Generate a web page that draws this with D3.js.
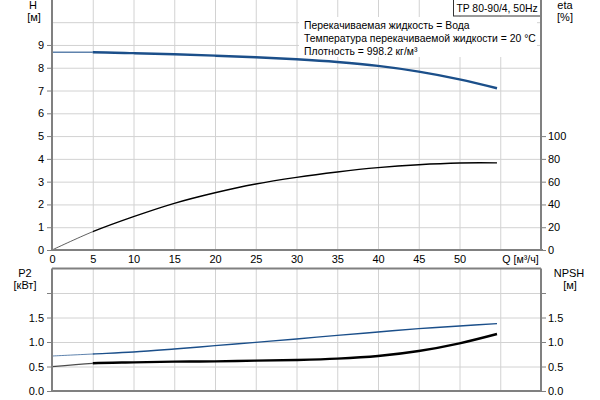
<!DOCTYPE html>
<html><head><meta charset="utf-8">
<script src="https://cdn.jsdelivr.net/npm/d3@7"></script>
<style>
body{margin:0;background:#fff;}
svg{display:block;font-family:"Liberation Sans",Arial,sans-serif;font-size:11px;}
</style></head><body>
<svg id="c" width="600" height="400"></svg>
<script>
// ---- data ----
const flow  = [0, 5, 10, 15, 20, 25, 30, 35, 40, 45, 50, 54.6];
const head  = [8.68, 8.68, 8.64, 8.59, 8.53, 8.46, 8.37, 8.25, 8.08, 7.83, 7.49, 7.10];
const eta   = [0, 16.1, 29.3, 41.0, 50.3, 58.0, 63.8, 68.5, 72.3, 74.9, 76.4, 76.5];
const power = [0.714, 0.755, 0.796, 0.857, 0.925, 0.993, 1.061, 1.136, 1.204, 1.272, 1.327, 1.374];
const npsh  = [0.497, 0.565, 0.585, 0.599, 0.605, 0.619, 0.633, 0.660, 0.714, 0.816, 0.973, 1.163];

const qTicks   = [0, 5, 10, 15, 20, 25, 30, 35, 40, 45, 50];
const qGrid    = [5, 10, 15, 20, 25, 30, 35, 40, 45, 50, 55];
const hTicks   = [0, 1, 2, 3, 4, 5, 6, 7, 8, 9];
const hGrid    = [1, 2, 3, 4, 5, 6, 7, 8, 9, 10];
const etaTicks = [0, 20, 40, 60, 80, 100];
const pTicks   = [0, 0.5, 1.0, 1.5, 2.0];
const pLabels  = ["0.0", "0.5", "1.0", "1.5", ""];

const infoLines = ["Перекачиваемая жидкость = Вода",
                   "Температура перекачиваемой жидкости = 20 °C",
                   "Плотность = 998.2 кг/м³"];
const title = "TP 80-90/4, 50Hz";

// ---- layout ----
const svg = d3.select("#c");
const L = 52, R = 541;
const x = d3.scaleLinear([0, 60], [L, R]);
const yH = d3.scaleLinear([0, 11], [250, -0.6]);
const yEta = d3.scaleLinear([0, 100], [250, 250 - 5 * 22.78]);
const yB = d3.scaleLinear([0, 2.5], [391, 268.5]);
const AX = "#808080", GR = "#d2d2d2";

function grid(g, yScale, y0, y1, hVals) {
  g.append("g").attr("transform", `translate(0,${y0})`)
    .call(d3.axisBottom(x).tickValues(qGrid).tickSize(y1 - y0).tickFormat(""))
    .call(s => { s.select(".domain").remove(); s.selectAll("line").attr("stroke", GR); });
  g.append("g").attr("transform", `translate(${L},0)`)
    .call(d3.axisRight(yScale).tickValues(hVals).tickSize(R - L).tickFormat(""))
    .call(s => { s.select(".domain").remove(); s.selectAll("line").attr("stroke", GR); });
}

grid(svg, yH, 0, 250, hGrid);
grid(svg, yB, 268.5, 391, [0.5, 1.0, 1.5, 2.0]);

// info text with white background
svg.append("rect").attr("x", 299).attr("y", 17).attr("width", 238).attr("height", 40).attr("fill", "#fff");
svg.append("g").selectAll("text").data(infoLines).join("text")
  .attr("x", 304).attr("y", (d, i) => 29 + i * 13).text(d => d).attr("fill", "#000")
  .style("font-size", "10.4px");

// title box
svg.append("rect").attr("x", 453.5).attr("y", -1).attr("width", 87).attr("height", 17)
  .attr("fill", "#fff").attr("stroke", "#333").attr("stroke-width", 1);
svg.append("text").attr("x", 497).attr("y", 11.5).attr("text-anchor", "middle")
  .style("font-size", "10.4px").text(title);

// ---- curves ----
const defs = svg.append("defs");
defs.append("clipPath").attr("id", "clipA").append("rect")
  .attr("x", 0).attr("y", 0).attr("width", x(5)).attr("height", 400);
defs.append("clipPath").attr("id", "clipB").append("rect")
  .attr("x", x(5)).attr("y", 0).attr("width", 600).attr("height", 400);
const curve = d3.curveCatmullRom.alpha(0.5);
function drawCurve(vals, yScale, color, w, wThin) {
  const pts = flow.map((q, i) => [q, vals[i]]);
  const line = d3.line().x(d => x(d[0])).y(d => yScale(d[1])).curve(curve);
  svg.append("path").datum(pts).attr("d", line).attr("fill", "none").attr("clip-path", "url(#clipA)")
    .attr("stroke", color).attr("stroke-width", wThin).attr("stroke-opacity", 0.7);
  svg.append("path").datum(pts).attr("d", line).attr("fill", "none").attr("clip-path", "url(#clipB)")
    .attr("stroke", color).attr("stroke-width", w);
}
drawCurve(head, yH, "#1b4f8a", 2.4, 1.6);
drawCurve(eta, yEta, "#000", 1.4, 0.9);
drawCurve(power, yB, "#1b4f8a", 1.4, 1.0);
drawCurve(npsh, yB, "#000", 2.4, 1.2);

// ---- axes ----
function styleAxis(s) {
  s.select(".domain").remove();
  s.selectAll(".tick line").attr("stroke", AX);
  s.selectAll(".tick text").attr("fill", "#000").style("font-size", "11px")
    .style("font-family", "'Liberation Sans',Arial,sans-serif");
}
svg.append("g").attr("transform", `translate(${L},0)`)
  .call(d3.axisLeft(yH).tickValues(hTicks).tickSize(5).tickPadding(3).tickFormat(d3.format("d")))
  .call(styleAxis);
svg.append("g").attr("transform", `translate(${R},0)`)
  .call(d3.axisRight(yEta).tickValues(etaTicks).tickSize(5).tickPadding(2).tickFormat(d3.format("d")))
  .call(styleAxis);
svg.append("g").attr("transform", `translate(0,250)`)
  .call(d3.axisBottom(x).tickValues(qTicks).tickSize(0).tickPadding(5).tickFormat(d3.format("d")))
  .call(styleAxis);
svg.append("text").attr("x", x(55) + 2).attr("y", 263).style("font-size", "10.6px").text("Q [м³/ч]");
svg.append("g").attr("transform", `translate(${L},0)`)
  .call(d3.axisLeft(yB).tickValues(pTicks).tickSize(5).tickPadding(3).tickFormat((d, i) => pLabels[i]))
  .call(styleAxis);
svg.append("g").attr("transform", `translate(${R},0)`)
  .call(d3.axisRight(yB).tickValues(pTicks).tickSize(5).tickPadding(2).tickFormat((d, i) => pLabels[i]))
  .call(styleAxis);

// frame lines
const frame = [
  [x(0), yH.range()[1], x(0), 250], [x(60), yH.range()[1], x(60), 250], [x(0), 250, x(60) + 2, 250],
  [x(0), yB(2.5), x(60), yB(2.5)], [x(0), yB(2.5), x(0), yB(0)], [x(60), yB(2.5), x(60), yB(0)],
  [x(0), yB(0), x(60), yB(0)]
];
svg.append("g").selectAll("line").data(frame).join("line")
  .attr("x1", d => d[0]).attr("y1", d => d[1]).attr("x2", d => d[2]).attr("y2", d => d[3])
  .attr("stroke", AX).attr("stroke-width", 2);

// axis titles
const titles = [["H", 33, 9], ["[м]", 34, 21], ["eta", 565, 9], ["[%]", 565, 21],
                ["P2", 25, 277], ["[кВт]", 25, 289], ["NPSH", 569, 277], ["[м]", 570, 289]];
svg.append("g").selectAll("text").data(titles).join("text")
  .attr("x", d => d[1]).attr("y", d => d[2]).attr("text-anchor", "middle").text(d => d[0]);
</script>
</body></html>
